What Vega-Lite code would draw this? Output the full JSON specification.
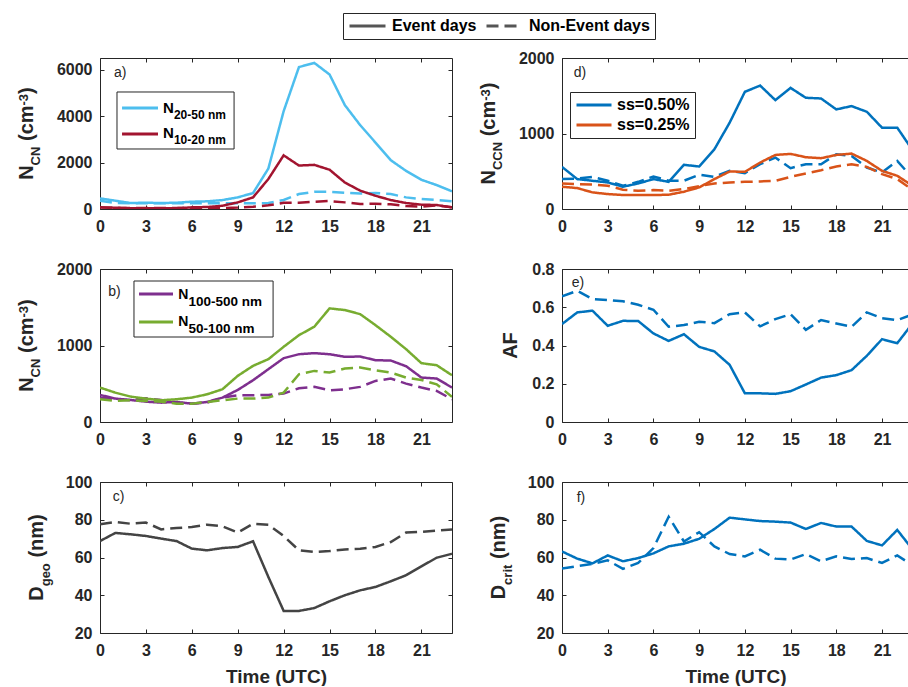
{
"$schema": "https://vega.github.io/schema/vega-lite/v6.json",
"padding": {"left": 16, "top": 12, "right": 0, "bottom": 0},
"background": "white",
"datasets": {"d": [
{"p":"a","s":"N20-50","t":"E","h":0,"v":457},{"p":"a","s":"N20-50","t":"E","h":1,"v":357},{"p":"a","s":"N20-50","t":"E","h":2,"v":257},{"p":"a","s":"N20-50","t":"E","h":3,"v":270},{"p":"a","s":"N20-50","t":"E","h":4,"v":257},{"p":"a","s":"N20-50","t":"E","h":5,"v":270},{"p":"a","s":"N20-50","t":"E","h":6,"v":314},{"p":"a","s":"N20-50","t":"E","h":7,"v":330},{"p":"a","s":"N20-50","t":"E","h":8,"v":385},{"p":"a","s":"N20-50","t":"E","h":9,"v":500},{"p":"a","s":"N20-50","t":"E","h":10,"v":686},{"p":"a","s":"N20-50","t":"E","h":11,"v":1740},{"p":"a","s":"N20-50","t":"E","h":12,"v":4210},{"p":"a","s":"N20-50","t":"E","h":13,"v":6110},{"p":"a","s":"N20-50","t":"E","h":14,"v":6290},{"p":"a","s":"N20-50","t":"E","h":15,"v":5790},{"p":"a","s":"N20-50","t":"E","h":16,"v":4470},{"p":"a","s":"N20-50","t":"E","h":17,"v":3610},{"p":"a","s":"N20-50","t":"E","h":18,"v":2860},{"p":"a","s":"N20-50","t":"E","h":19,"v":2100},{"p":"a","s":"N20-50","t":"E","h":20,"v":1640},{"p":"a","s":"N20-50","t":"E","h":21,"v":1257},{"p":"a","s":"N20-50","t":"E","h":22,"v":1030},{"p":"a","s":"N20-50","t":"E","h":23,"v":760},
{"p":"a","s":"N20-50","t":"N","h":0,"v":357},{"p":"a","s":"N20-50","t":"N","h":1,"v":257},{"p":"a","s":"N20-50","t":"N","h":2,"v":250},{"p":"a","s":"N20-50","t":"N","h":3,"v":250},{"p":"a","s":"N20-50","t":"N","h":4,"v":250},{"p":"a","s":"N20-50","t":"N","h":5,"v":250},{"p":"a","s":"N20-50","t":"N","h":6,"v":250},{"p":"a","s":"N20-50","t":"N","h":7,"v":250},{"p":"a","s":"N20-50","t":"N","h":8,"v":250},{"p":"a","s":"N20-50","t":"N","h":9,"v":250},{"p":"a","s":"N20-50","t":"N","h":10,"v":243},{"p":"a","s":"N20-50","t":"N","h":11,"v":257},{"p":"a","s":"N20-50","t":"N","h":12,"v":386},{"p":"a","s":"N20-50","t":"N","h":13,"v":643},{"p":"a","s":"N20-50","t":"N","h":14,"v":743},{"p":"a","s":"N20-50","t":"N","h":15,"v":743},{"p":"a","s":"N20-50","t":"N","h":16,"v":700},{"p":"a","s":"N20-50","t":"N","h":17,"v":670},{"p":"a","s":"N20-50","t":"N","h":18,"v":686},{"p":"a","s":"N20-50","t":"N","h":19,"v":643},{"p":"a","s":"N20-50","t":"N","h":20,"v":500},{"p":"a","s":"N20-50","t":"N","h":21,"v":430},{"p":"a","s":"N20-50","t":"N","h":22,"v":386},{"p":"a","s":"N20-50","t":"N","h":23,"v":330},
{"p":"a","s":"N10-20","t":"E","h":0,"v":71},{"p":"a","s":"N10-20","t":"E","h":1,"v":57},{"p":"a","s":"N10-20","t":"E","h":2,"v":30},{"p":"a","s":"N10-20","t":"E","h":3,"v":30},{"p":"a","s":"N10-20","t":"E","h":4,"v":30},{"p":"a","s":"N10-20","t":"E","h":5,"v":35},{"p":"a","s":"N10-20","t":"E","h":6,"v":70},{"p":"a","s":"N10-20","t":"E","h":7,"v":85},{"p":"a","s":"N10-20","t":"E","h":8,"v":140},{"p":"a","s":"N10-20","t":"E","h":9,"v":285},{"p":"a","s":"N10-20","t":"E","h":10,"v":500},{"p":"a","s":"N10-20","t":"E","h":11,"v":1290},{"p":"a","s":"N10-20","t":"E","h":12,"v":2310},{"p":"a","s":"N10-20","t":"E","h":13,"v":1870},{"p":"a","s":"N10-20","t":"E","h":14,"v":1900},{"p":"a","s":"N10-20","t":"E","h":15,"v":1690},{"p":"a","s":"N10-20","t":"E","h":16,"v":1140},{"p":"a","s":"N10-20","t":"E","h":17,"v":790},{"p":"a","s":"N10-20","t":"E","h":18,"v":570},{"p":"a","s":"N10-20","t":"E","h":19,"v":385},{"p":"a","s":"N10-20","t":"E","h":20,"v":257},{"p":"a","s":"N10-20","t":"E","h":21,"v":186},{"p":"a","s":"N10-20","t":"E","h":22,"v":171},{"p":"a","s":"N10-20","t":"E","h":23,"v":71},
{"p":"a","s":"N10-20","t":"N","h":0,"v":71},{"p":"a","s":"N10-20","t":"N","h":1,"v":40},{"p":"a","s":"N10-20","t":"N","h":2,"v":40},{"p":"a","s":"N10-20","t":"N","h":3,"v":40},{"p":"a","s":"N10-20","t":"N","h":4,"v":40},{"p":"a","s":"N10-20","t":"N","h":5,"v":40},{"p":"a","s":"N10-20","t":"N","h":6,"v":40},{"p":"a","s":"N10-20","t":"N","h":7,"v":40},{"p":"a","s":"N10-20","t":"N","h":8,"v":40},{"p":"a","s":"N10-20","t":"N","h":9,"v":60},{"p":"a","s":"N10-20","t":"N","h":10,"v":100},{"p":"a","s":"N10-20","t":"N","h":11,"v":157},{"p":"a","s":"N10-20","t":"N","h":12,"v":270},{"p":"a","s":"N10-20","t":"N","h":13,"v":270},{"p":"a","s":"N10-20","t":"N","h":14,"v":314},{"p":"a","s":"N10-20","t":"N","h":15,"v":343},{"p":"a","s":"N10-20","t":"N","h":16,"v":285},{"p":"a","s":"N10-20","t":"N","h":17,"v":214},{"p":"a","s":"N10-20","t":"N","h":18,"v":228},{"p":"a","s":"N10-20","t":"N","h":19,"v":200},{"p":"a","s":"N10-20","t":"N","h":20,"v":130},{"p":"a","s":"N10-20","t":"N","h":21,"v":100},{"p":"a","s":"N10-20","t":"N","h":22,"v":157},{"p":"a","s":"N10-20","t":"N","h":23,"v":71},
{"p":"b","s":"N100-500","t":"E","h":0,"v":354},{"p":"b","s":"N100-500","t":"E","h":1,"v":306},{"p":"b","s":"N100-500","t":"E","h":2,"v":288},{"p":"b","s":"N100-500","t":"E","h":3,"v":266},{"p":"b","s":"N100-500","t":"E","h":4,"v":253},{"p":"b","s":"N100-500","t":"E","h":5,"v":262},{"p":"b","s":"N100-500","t":"E","h":6,"v":240},{"p":"b","s":"N100-500","t":"E","h":7,"v":262},{"p":"b","s":"N100-500","t":"E","h":8,"v":319},{"p":"b","s":"N100-500","t":"E","h":9,"v":419},{"p":"b","s":"N100-500","t":"E","h":10,"v":546},{"p":"b","s":"N100-500","t":"E","h":11,"v":690},{"p":"b","s":"N100-500","t":"E","h":12,"v":834},{"p":"b","s":"N100-500","t":"E","h":13,"v":886},{"p":"b","s":"N100-500","t":"E","h":14,"v":900},{"p":"b","s":"N100-500","t":"E","h":15,"v":886},{"p":"b","s":"N100-500","t":"E","h":16,"v":852},{"p":"b","s":"N100-500","t":"E","h":17,"v":856},{"p":"b","s":"N100-500","t":"E","h":18,"v":808},{"p":"b","s":"N100-500","t":"E","h":19,"v":803},{"p":"b","s":"N100-500","t":"E","h":20,"v":729},{"p":"b","s":"N100-500","t":"E","h":21,"v":581},{"p":"b","s":"N100-500","t":"E","h":22,"v":568},{"p":"b","s":"N100-500","t":"E","h":23,"v":450},
{"p":"b","s":"N100-500","t":"N","h":0,"v":319},{"p":"b","s":"N100-500","t":"N","h":1,"v":297},{"p":"b","s":"N100-500","t":"N","h":2,"v":284},{"p":"b","s":"N100-500","t":"N","h":3,"v":310},{"p":"b","s":"N100-500","t":"N","h":4,"v":288},{"p":"b","s":"N100-500","t":"N","h":5,"v":253},{"p":"b","s":"N100-500","t":"N","h":6,"v":240},{"p":"b","s":"N100-500","t":"N","h":7,"v":253},{"p":"b","s":"N100-500","t":"N","h":8,"v":319},{"p":"b","s":"N100-500","t":"N","h":9,"v":349},{"p":"b","s":"N100-500","t":"N","h":10,"v":349},{"p":"b","s":"N100-500","t":"N","h":11,"v":354},{"p":"b","s":"N100-500","t":"N","h":12,"v":371},{"p":"b","s":"N100-500","t":"N","h":13,"v":441},{"p":"b","s":"N100-500","t":"N","h":14,"v":459},{"p":"b","s":"N100-500","t":"N","h":15,"v":415},{"p":"b","s":"N100-500","t":"N","h":16,"v":428},{"p":"b","s":"N100-500","t":"N","h":17,"v":459},{"p":"b","s":"N100-500","t":"N","h":18,"v":537},{"p":"b","s":"N100-500","t":"N","h":19,"v":568},{"p":"b","s":"N100-500","t":"N","h":20,"v":502},{"p":"b","s":"N100-500","t":"N","h":21,"v":450},{"p":"b","s":"N100-500","t":"N","h":22,"v":406},{"p":"b","s":"N100-500","t":"N","h":23,"v":297},
{"p":"b","s":"N50-100","t":"E","h":0,"v":450},{"p":"b","s":"N50-100","t":"E","h":1,"v":384},{"p":"b","s":"N50-100","t":"E","h":2,"v":332},{"p":"b","s":"N50-100","t":"E","h":3,"v":306},{"p":"b","s":"N50-100","t":"E","h":4,"v":284},{"p":"b","s":"N50-100","t":"E","h":5,"v":297},{"p":"b","s":"N50-100","t":"E","h":6,"v":319},{"p":"b","s":"N50-100","t":"E","h":7,"v":362},{"p":"b","s":"N50-100","t":"E","h":8,"v":428},{"p":"b","s":"N50-100","t":"E","h":9,"v":603},{"p":"b","s":"N50-100","t":"E","h":10,"v":734},{"p":"b","s":"N50-100","t":"E","h":11,"v":821},{"p":"b","s":"N50-100","t":"E","h":12,"v":983},{"p":"b","s":"N50-100","t":"E","h":13,"v":1135},{"p":"b","s":"N50-100","t":"E","h":14,"v":1245},{"p":"b","s":"N50-100","t":"E","h":15,"v":1485},{"p":"b","s":"N50-100","t":"E","h":16,"v":1463},{"p":"b","s":"N50-100","t":"E","h":17,"v":1410},{"p":"b","s":"N50-100","t":"E","h":18,"v":1266},{"p":"b","s":"N50-100","t":"E","h":19,"v":1114},{"p":"b","s":"N50-100","t":"E","h":20,"v":952},{"p":"b","s":"N50-100","t":"E","h":21,"v":769},{"p":"b","s":"N50-100","t":"E","h":22,"v":742},{"p":"b","s":"N50-100","t":"E","h":23,"v":611},
{"p":"b","s":"N50-100","t":"N","h":0,"v":297},{"p":"b","s":"N50-100","t":"N","h":1,"v":275},{"p":"b","s":"N50-100","t":"N","h":2,"v":284},{"p":"b","s":"N50-100","t":"N","h":3,"v":275},{"p":"b","s":"N50-100","t":"N","h":4,"v":266},{"p":"b","s":"N50-100","t":"N","h":5,"v":240},{"p":"b","s":"N50-100","t":"N","h":6,"v":240},{"p":"b","s":"N50-100","t":"N","h":7,"v":262},{"p":"b","s":"N50-100","t":"N","h":8,"v":284},{"p":"b","s":"N50-100","t":"N","h":9,"v":306},{"p":"b","s":"N50-100","t":"N","h":10,"v":306},{"p":"b","s":"N50-100","t":"N","h":11,"v":319},{"p":"b","s":"N50-100","t":"N","h":12,"v":384},{"p":"b","s":"N50-100","t":"N","h":13,"v":624},{"p":"b","s":"N50-100","t":"N","h":14,"v":668},{"p":"b","s":"N50-100","t":"N","h":15,"v":646},{"p":"b","s":"N50-100","t":"N","h":16,"v":699},{"p":"b","s":"N50-100","t":"N","h":17,"v":712},{"p":"b","s":"N50-100","t":"N","h":18,"v":677},{"p":"b","s":"N50-100","t":"N","h":19,"v":646},{"p":"b","s":"N50-100","t":"N","h":20,"v":581},{"p":"b","s":"N50-100","t":"N","h":21,"v":550},{"p":"b","s":"N50-100","t":"N","h":22,"v":493},{"p":"b","s":"N50-100","t":"N","h":23,"v":328},
{"p":"c","s":"Dgeo","t":"E","h":0,"v":68.7},{"p":"c","s":"Dgeo","t":"E","h":1,"v":73.0},{"p":"c","s":"Dgeo","t":"E","h":2,"v":72.3},{"p":"c","s":"Dgeo","t":"E","h":3,"v":71.4},{"p":"c","s":"Dgeo","t":"E","h":4,"v":70.0},{"p":"c","s":"Dgeo","t":"E","h":5,"v":68.7},{"p":"c","s":"Dgeo","t":"E","h":6,"v":64.7},{"p":"c","s":"Dgeo","t":"E","h":7,"v":63.8},{"p":"c","s":"Dgeo","t":"E","h":8,"v":65.0},{"p":"c","s":"Dgeo","t":"E","h":9,"v":65.6},{"p":"c","s":"Dgeo","t":"E","h":10,"v":68.6},{"p":"c","s":"Dgeo","t":"E","h":11,"v":49.7},{"p":"c","s":"Dgeo","t":"E","h":12,"v":31.7},{"p":"c","s":"Dgeo","t":"E","h":13,"v":31.7},{"p":"c","s":"Dgeo","t":"E","h":14,"v":33.2},{"p":"c","s":"Dgeo","t":"E","h":15,"v":36.8},{"p":"c","s":"Dgeo","t":"E","h":16,"v":40.0},{"p":"c","s":"Dgeo","t":"E","h":17,"v":42.6},{"p":"c","s":"Dgeo","t":"E","h":18,"v":44.4},{"p":"c","s":"Dgeo","t":"E","h":19,"v":47.4},{"p":"c","s":"Dgeo","t":"E","h":20,"v":50.6},{"p":"c","s":"Dgeo","t":"E","h":21,"v":55.3},{"p":"c","s":"Dgeo","t":"E","h":22,"v":59.9},{"p":"c","s":"Dgeo","t":"E","h":23,"v":62.0},
{"p":"c","s":"Dgeo","t":"N","h":0,"v":77.6},{"p":"c","s":"Dgeo","t":"N","h":1,"v":78.8},{"p":"c","s":"Dgeo","t":"N","h":2,"v":77.9},{"p":"c","s":"Dgeo","t":"N","h":3,"v":78.5},{"p":"c","s":"Dgeo","t":"N","h":4,"v":74.9},{"p":"c","s":"Dgeo","t":"N","h":5,"v":75.6},{"p":"c","s":"Dgeo","t":"N","h":6,"v":76.2},{"p":"c","s":"Dgeo","t":"N","h":7,"v":77.4},{"p":"c","s":"Dgeo","t":"N","h":8,"v":76.5},{"p":"c","s":"Dgeo","t":"N","h":9,"v":73.2},{"p":"c","s":"Dgeo","t":"N","h":10,"v":77.9},{"p":"c","s":"Dgeo","t":"N","h":11,"v":77.4},{"p":"c","s":"Dgeo","t":"N","h":12,"v":71.4},{"p":"c","s":"Dgeo","t":"N","h":13,"v":63.8},{"p":"c","s":"Dgeo","t":"N","h":14,"v":62.9},{"p":"c","s":"Dgeo","t":"N","h":15,"v":63.4},{"p":"c","s":"Dgeo","t":"N","h":16,"v":64.3},{"p":"c","s":"Dgeo","t":"N","h":17,"v":64.7},{"p":"c","s":"Dgeo","t":"N","h":18,"v":65.6},{"p":"c","s":"Dgeo","t":"N","h":19,"v":68.2},{"p":"c","s":"Dgeo","t":"N","h":20,"v":73.2},{"p":"c","s":"Dgeo","t":"N","h":21,"v":73.6},{"p":"c","s":"Dgeo","t":"N","h":22,"v":74.2},{"p":"c","s":"Dgeo","t":"N","h":23,"v":74.9},
{"p":"d","s":"ss=0.50%","t":"E","h":0,"v":558},{"p":"d","s":"ss=0.50%","t":"E","h":1,"v":396},{"p":"d","s":"ss=0.50%","t":"E","h":2,"v":374},{"p":"d","s":"ss=0.50%","t":"E","h":3,"v":352},{"p":"d","s":"ss=0.50%","t":"E","h":4,"v":295},{"p":"d","s":"ss=0.50%","t":"E","h":5,"v":338},{"p":"d","s":"ss=0.50%","t":"E","h":6,"v":396},{"p":"d","s":"ss=0.50%","t":"E","h":7,"v":360},{"p":"d","s":"ss=0.50%","t":"E","h":8,"v":585},{"p":"d","s":"ss=0.50%","t":"E","h":9,"v":563},{"p":"d","s":"ss=0.50%","t":"E","h":10,"v":791},{"p":"d","s":"ss=0.50%","t":"E","h":11,"v":1143},{"p":"d","s":"ss=0.50%","t":"E","h":12,"v":1552},{"p":"d","s":"ss=0.50%","t":"E","h":13,"v":1635},{"p":"d","s":"ss=0.50%","t":"E","h":14,"v":1442},{"p":"d","s":"ss=0.50%","t":"E","h":15,"v":1604},{"p":"d","s":"ss=0.50%","t":"E","h":16,"v":1473},{"p":"d","s":"ss=0.50%","t":"E","h":17,"v":1464},{"p":"d","s":"ss=0.50%","t":"E","h":18,"v":1319},{"p":"d","s":"ss=0.50%","t":"E","h":19,"v":1363},{"p":"d","s":"ss=0.50%","t":"E","h":20,"v":1288},{"p":"d","s":"ss=0.50%","t":"E","h":21,"v":1077},{"p":"d","s":"ss=0.50%","t":"E","h":22,"v":1077},{"p":"d","s":"ss=0.50%","t":"E","h":23,"v":780},
{"p":"d","s":"ss=0.50%","t":"N","h":0,"v":396},{"p":"d","s":"ss=0.50%","t":"N","h":1,"v":404},{"p":"d","s":"ss=0.50%","t":"N","h":2,"v":426},{"p":"d","s":"ss=0.50%","t":"N","h":3,"v":374},{"p":"d","s":"ss=0.50%","t":"N","h":4,"v":308},{"p":"d","s":"ss=0.50%","t":"N","h":5,"v":360},{"p":"d","s":"ss=0.50%","t":"N","h":6,"v":431},{"p":"d","s":"ss=0.50%","t":"N","h":7,"v":374},{"p":"d","s":"ss=0.50%","t":"N","h":8,"v":374},{"p":"d","s":"ss=0.50%","t":"N","h":9,"v":453},{"p":"d","s":"ss=0.50%","t":"N","h":10,"v":426},{"p":"d","s":"ss=0.50%","t":"N","h":11,"v":505},{"p":"d","s":"ss=0.50%","t":"N","h":12,"v":475},{"p":"d","s":"ss=0.50%","t":"N","h":13,"v":593},{"p":"d","s":"ss=0.50%","t":"N","h":14,"v":681},{"p":"d","s":"ss=0.50%","t":"N","h":15,"v":541},{"p":"d","s":"ss=0.50%","t":"N","h":16,"v":593},{"p":"d","s":"ss=0.50%","t":"N","h":17,"v":593},{"p":"d","s":"ss=0.50%","t":"N","h":18,"v":725},{"p":"d","s":"ss=0.50%","t":"N","h":19,"v":703},{"p":"d","s":"ss=0.50%","t":"N","h":20,"v":549},{"p":"d","s":"ss=0.50%","t":"N","h":21,"v":484},{"p":"d","s":"ss=0.50%","t":"N","h":22,"v":637},{"p":"d","s":"ss=0.50%","t":"N","h":23,"v":410},
{"p":"d","s":"ss=0.25%","t":"E","h":0,"v":295},{"p":"d","s":"ss=0.25%","t":"E","h":1,"v":277},{"p":"d","s":"ss=0.25%","t":"E","h":2,"v":220},{"p":"d","s":"ss=0.25%","t":"E","h":3,"v":198},{"p":"d","s":"ss=0.25%","t":"E","h":4,"v":185},{"p":"d","s":"ss=0.25%","t":"E","h":5,"v":185},{"p":"d","s":"ss=0.25%","t":"E","h":6,"v":185},{"p":"d","s":"ss=0.25%","t":"E","h":7,"v":189},{"p":"d","s":"ss=0.25%","t":"E","h":8,"v":229},{"p":"d","s":"ss=0.25%","t":"E","h":9,"v":286},{"p":"d","s":"ss=0.25%","t":"E","h":10,"v":396},{"p":"d","s":"ss=0.25%","t":"E","h":11,"v":497},{"p":"d","s":"ss=0.25%","t":"E","h":12,"v":492},{"p":"d","s":"ss=0.25%","t":"E","h":13,"v":615},{"p":"d","s":"ss=0.25%","t":"E","h":14,"v":716},{"p":"d","s":"ss=0.25%","t":"E","h":15,"v":730},{"p":"d","s":"ss=0.25%","t":"E","h":16,"v":686},{"p":"d","s":"ss=0.25%","t":"E","h":17,"v":673},{"p":"d","s":"ss=0.25%","t":"E","h":18,"v":716},{"p":"d","s":"ss=0.25%","t":"E","h":19,"v":734},{"p":"d","s":"ss=0.25%","t":"E","h":20,"v":637},{"p":"d","s":"ss=0.25%","t":"E","h":21,"v":505},{"p":"d","s":"ss=0.25%","t":"E","h":22,"v":440},{"p":"d","s":"ss=0.25%","t":"E","h":23,"v":308},
{"p":"d","s":"ss=0.25%","t":"N","h":0,"v":338},{"p":"d","s":"ss=0.25%","t":"N","h":1,"v":330},{"p":"d","s":"ss=0.25%","t":"N","h":2,"v":325},{"p":"d","s":"ss=0.25%","t":"N","h":3,"v":308},{"p":"d","s":"ss=0.25%","t":"N","h":4,"v":255},{"p":"d","s":"ss=0.25%","t":"N","h":5,"v":242},{"p":"d","s":"ss=0.25%","t":"N","h":6,"v":251},{"p":"d","s":"ss=0.25%","t":"N","h":7,"v":242},{"p":"d","s":"ss=0.25%","t":"N","h":8,"v":264},{"p":"d","s":"ss=0.25%","t":"N","h":9,"v":303},{"p":"d","s":"ss=0.25%","t":"N","h":10,"v":338},{"p":"d","s":"ss=0.25%","t":"N","h":11,"v":352},{"p":"d","s":"ss=0.25%","t":"N","h":12,"v":360},{"p":"d","s":"ss=0.25%","t":"N","h":13,"v":365},{"p":"d","s":"ss=0.25%","t":"N","h":14,"v":374},{"p":"d","s":"ss=0.25%","t":"N","h":15,"v":426},{"p":"d","s":"ss=0.25%","t":"N","h":16,"v":470},{"p":"d","s":"ss=0.25%","t":"N","h":17,"v":514},{"p":"d","s":"ss=0.25%","t":"N","h":18,"v":563},{"p":"d","s":"ss=0.25%","t":"N","h":19,"v":593},{"p":"d","s":"ss=0.25%","t":"N","h":20,"v":558},{"p":"d","s":"ss=0.25%","t":"N","h":21,"v":462},{"p":"d","s":"ss=0.25%","t":"N","h":22,"v":396},{"p":"d","s":"ss=0.25%","t":"N","h":23,"v":253},
{"p":"e","s":"AF","t":"E","h":0,"v":0.512},{"p":"e","s":"AF","t":"E","h":1,"v":0.573},{"p":"e","s":"AF","t":"E","h":2,"v":0.582},{"p":"e","s":"AF","t":"E","h":3,"v":0.503},{"p":"e","s":"AF","t":"E","h":4,"v":0.529},{"p":"e","s":"AF","t":"E","h":5,"v":0.528},{"p":"e","s":"AF","t":"E","h":6,"v":0.463},{"p":"e","s":"AF","t":"E","h":7,"v":0.424},{"p":"e","s":"AF","t":"E","h":8,"v":0.459},{"p":"e","s":"AF","t":"E","h":9,"v":0.393},{"p":"e","s":"AF","t":"E","h":10,"v":0.369},{"p":"e","s":"AF","t":"E","h":11,"v":0.299},{"p":"e","s":"AF","t":"E","h":12,"v":0.150},{"p":"e","s":"AF","t":"E","h":13,"v":0.150},{"p":"e","s":"AF","t":"E","h":14,"v":0.147},{"p":"e","s":"AF","t":"E","h":15,"v":0.161},{"p":"e","s":"AF","t":"E","h":16,"v":0.196},{"p":"e","s":"AF","t":"E","h":17,"v":0.232},{"p":"e","s":"AF","t":"E","h":18,"v":0.245},{"p":"e","s":"AF","t":"E","h":19,"v":0.271},{"p":"e","s":"AF","t":"E","h":20,"v":0.346},{"p":"e","s":"AF","t":"E","h":21,"v":0.433},{"p":"e","s":"AF","t":"E","h":22,"v":0.412},{"p":"e","s":"AF","t":"E","h":23,"v":0.515},
{"p":"e","s":"AF","t":"N","h":0,"v":0.657},{"p":"e","s":"AF","t":"N","h":1,"v":0.686},{"p":"e","s":"AF","t":"N","h":2,"v":0.643},{"p":"e","s":"AF","t":"N","h":3,"v":0.638},{"p":"e","s":"AF","t":"N","h":4,"v":0.631},{"p":"e","s":"AF","t":"N","h":5,"v":0.613},{"p":"e","s":"AF","t":"N","h":6,"v":0.587},{"p":"e","s":"AF","t":"N","h":7,"v":0.498},{"p":"e","s":"AF","t":"N","h":8,"v":0.507},{"p":"e","s":"AF","t":"N","h":9,"v":0.524},{"p":"e","s":"AF","t":"N","h":10,"v":0.517},{"p":"e","s":"AF","t":"N","h":11,"v":0.564},{"p":"e","s":"AF","t":"N","h":12,"v":0.573},{"p":"e","s":"AF","t":"N","h":13,"v":0.500},{"p":"e","s":"AF","t":"N","h":14,"v":0.538},{"p":"e","s":"AF","t":"N","h":15,"v":0.564},{"p":"e","s":"AF","t":"N","h":16,"v":0.482},{"p":"e","s":"AF","t":"N","h":17,"v":0.533},{"p":"e","s":"AF","t":"N","h":18,"v":0.515},{"p":"e","s":"AF","t":"N","h":19,"v":0.498},{"p":"e","s":"AF","t":"N","h":20,"v":0.573},{"p":"e","s":"AF","t":"N","h":21,"v":0.543},{"p":"e","s":"AF","t":"N","h":22,"v":0.533},{"p":"e","s":"AF","t":"N","h":23,"v":0.562},
{"p":"f","s":"Dcrit","t":"E","h":0,"v":63.2},{"p":"f","s":"Dcrit","t":"E","h":1,"v":59.4},{"p":"f","s":"Dcrit","t":"E","h":2,"v":56.9},{"p":"f","s":"Dcrit","t":"E","h":3,"v":61.1},{"p":"f","s":"Dcrit","t":"E","h":4,"v":58.0},{"p":"f","s":"Dcrit","t":"E","h":5,"v":59.7},{"p":"f","s":"Dcrit","t":"E","h":6,"v":62.2},{"p":"f","s":"Dcrit","t":"E","h":7,"v":65.9},{"p":"f","s":"Dcrit","t":"E","h":8,"v":67.3},{"p":"f","s":"Dcrit","t":"E","h":9,"v":69.9},{"p":"f","s":"Dcrit","t":"E","h":10,"v":75.1},{"p":"f","s":"Dcrit","t":"E","h":11,"v":81.1},{"p":"f","s":"Dcrit","t":"E","h":12,"v":80.2},{"p":"f","s":"Dcrit","t":"E","h":13,"v":79.3},{"p":"f","s":"Dcrit","t":"E","h":14,"v":79.0},{"p":"f","s":"Dcrit","t":"E","h":15,"v":78.5},{"p":"f","s":"Dcrit","t":"E","h":16,"v":75.1},{"p":"f","s":"Dcrit","t":"E","h":17,"v":78.3},{"p":"f","s":"Dcrit","t":"E","h":18,"v":76.4},{"p":"f","s":"Dcrit","t":"E","h":19,"v":76.4},{"p":"f","s":"Dcrit","t":"E","h":20,"v":68.8},{"p":"f","s":"Dcrit","t":"E","h":21,"v":66.4},{"p":"f","s":"Dcrit","t":"E","h":22,"v":74.6},{"p":"f","s":"Dcrit","t":"E","h":23,"v":64.3},
{"p":"f","s":"Dcrit","t":"N","h":0,"v":54.1},{"p":"f","s":"Dcrit","t":"N","h":1,"v":55.4},{"p":"f","s":"Dcrit","t":"N","h":2,"v":56.6},{"p":"f","s":"Dcrit","t":"N","h":3,"v":58.5},{"p":"f","s":"Dcrit","t":"N","h":4,"v":54.0},{"p":"f","s":"Dcrit","t":"N","h":5,"v":57.1},{"p":"f","s":"Dcrit","t":"N","h":6,"v":65.0},{"p":"f","s":"Dcrit","t":"N","h":7,"v":81.6},{"p":"f","s":"Dcrit","t":"N","h":8,"v":68.5},{"p":"f","s":"Dcrit","t":"N","h":9,"v":73.4},{"p":"f","s":"Dcrit","t":"N","h":10,"v":65.9},{"p":"f","s":"Dcrit","t":"N","h":11,"v":61.8},{"p":"f","s":"Dcrit","t":"N","h":12,"v":60.6},{"p":"f","s":"Dcrit","t":"N","h":13,"v":64.1},{"p":"f","s":"Dcrit","t":"N","h":14,"v":59.4},{"p":"f","s":"Dcrit","t":"N","h":15,"v":58.9},{"p":"f","s":"Dcrit","t":"N","h":16,"v":61.8},{"p":"f","s":"Dcrit","t":"N","h":17,"v":58.0},{"p":"f","s":"Dcrit","t":"N","h":18,"v":60.6},{"p":"f","s":"Dcrit","t":"N","h":19,"v":59.2},{"p":"f","s":"Dcrit","t":"N","h":20,"v":59.7},{"p":"f","s":"Dcrit","t":"N","h":21,"v":57.1},{"p":"f","s":"Dcrit","t":"N","h":22,"v":61.1},{"p":"f","s":"Dcrit","t":"N","h":23,"v":55.9}
]},
"data": {"name": "d"},
"columns": 2,
"spacing": {"row": 60, "column": 110},
"bounds": "flush",
"resolve": {"scale": {"color": "independent", "strokeDash": "independent"}},
"concat": [
{
 "width": 352, "height": 151,
 "resolve": {"axis": {"x": "independent", "y": "independent"}},
 "layer": [
  {"transform": [{"filter": "datum.p == 'a'"}],
   "mark": {"type": "line", "strokeWidth": 2.5, "clip": true},
   "encoding": {
    "x": {"field": "h", "type": "quantitative", "scale": {"domain": [0, 23], "nice": false}, "axis": {"orient": "bottom", "values": [0,3,6,9,12,15,18,21], "title": null}},
    "y": {"field": "v", "type": "quantitative", "scale": {"domain": [0, 6500], "nice": false}, "axis": {"orient": "left", "values": [0,2000,4000,6000], "format": "d", "title": null}},
    "color": {"field": "s", "type": "nominal", "scale": {"domain": ["N20-50", "N10-20"], "range": ["#4DBEEE", "#A2142F"]}, "legend": null},
    "strokeDash": {"field": "t", "type": "nominal", "scale": {"domain": ["E", "N"], "range": [[1, 0], [12, 6]]},
      "legend": {"orient": "none", "legendX": 243, "legendY": -45, "direction": "horizontal", "title": null,
        "symbolType": "stroke", "symbolSize": 1296, "symbolStrokeWidth": 3, "symbolStrokeColor": "#555555", "clipHeight": 16,
        "labelFont": "Liberation Sans", "labelFontWeight": "bold", "labelFontSize": 16, "labelColor": "black",
        "labelOffset": 5, "columnPadding": 8, "padding": 5, "strokeColor": "#262626", "fillColor": "white",
        "labelExpr": "datum.value == 'E' ? 'Event days' : 'Non-Event days'",
        "encode": {"symbols": {"update": {"strokeDash": [{"test": "datum.value == 'N'", "value": [11, 11]}, {"value": [1, 0]}]}}}}}
   }},
  {"transform": [{"filter": "datum.p == 'a'"}],
   "mark": {"type": "point", "opacity": 0},
   "encoding": {
    "x": {"field": "h", "type": "quantitative", "axis": {"orient": "top", "values": [0,3,6,9,12,15,18,21], "labels": false, "title": null}},
    "y": {"field": "v", "type": "quantitative", "axis": {"orient": "right", "values": [0,2000,4000,6000], "labels": false, "title": null}}
   }},
  {"data": {"values": [{}]}, "mark": {"type": "text", "text": "a)", "fontSize": 14, "align": "left", "baseline": "alphabetic", "color": "#262626"},
   "encoding": {"x": {"datum": 0.92, "type": "quantitative", "axis": null}, "y": {"datum": 5695, "type": "quantitative", "axis": null}}},
  {"data": {"values": [{}]}, "mark": {"type": "rect", "fill": "white", "stroke": "#262626", "strokeWidth": 1},
   "encoding": {"x": {"datum": 1.11, "type": "quantitative", "axis": null}, "x2": {"datum": 8.76}, "y": {"datum": 5037, "type": "quantitative", "axis": null}, "y2": {"datum": 2583}}},
  {"data": {"values": [{}]}, "mark": {"type": "rule", "color": "#4DBEEE", "strokeWidth": 3},
   "encoding": {"x": {"datum": 1.44, "type": "quantitative", "axis": null}, "x2": {"datum": 3.79}, "y": {"datum": 4348, "type": "quantitative", "axis": null}}},
  {"data": {"values": [{}]}, "mark": {"type": "rule", "color": "#A2142F", "strokeWidth": 3},
   "encoding": {"x": {"datum": 1.44, "type": "quantitative", "axis": null}, "x2": {"datum": 3.79}, "y": {"datum": 3229, "type": "quantitative", "axis": null}}},
  {"data": {"values": [{}]}, "mark": {"type": "text", "text": "N", "fontSize": 15, "fontWeight": "bold", "align": "left", "baseline": "alphabetic", "color": "black"},
   "encoding": {"x": {"datum": 4.12, "type": "quantitative", "axis": null}, "y": {"datum": 4146, "type": "quantitative", "axis": null}}},
  {"data": {"values": [{}]}, "mark": {"type": "text", "text": "20-50 nm", "fontSize": 12, "fontWeight": "bold", "align": "left", "baseline": "alphabetic", "color": "black"},
   "encoding": {"x": {"datum": 4.83, "type": "quantitative", "axis": null}, "y": {"datum": 3887, "type": "quantitative", "axis": null}}},
  {"data": {"values": [{}]}, "mark": {"type": "text", "text": "N", "fontSize": 15, "fontWeight": "bold", "align": "left", "baseline": "alphabetic", "color": "black"},
   "encoding": {"x": {"datum": 4.12, "type": "quantitative", "axis": null}, "y": {"datum": 3070, "type": "quantitative", "axis": null}}},
  {"data": {"values": [{}]}, "mark": {"type": "text", "text": "10-20 nm", "fontSize": 12, "fontWeight": "bold", "align": "left", "baseline": "alphabetic", "color": "black"},
   "encoding": {"x": {"datum": 4.83, "type": "quantitative", "axis": null}, "y": {"datum": 2785, "type": "quantitative", "axis": null}}},
  {"data": {"values": [{}]}, "mark": {"type": "text", "text": "N", "angle": 270, "dx": -46.3, "dy": 0, "fontSize": 20, "fontWeight": "bold", "align": "left", "baseline": "alphabetic", "color": "#262626"},
   "encoding": {"x": {"datum": -4.38, "type": "quantitative", "axis": null}, "y": {"datum": 3250, "type": "quantitative", "axis": null}}},
  {"data": {"values": [{}]}, "mark": {"type": "text", "text": "CN", "angle": 270, "dx": -31.9, "dy": 7, "fontSize": 13, "fontWeight": "bold", "align": "left", "baseline": "alphabetic", "color": "#262626"},
   "encoding": {"x": {"datum": -4.38, "type": "quantitative", "axis": null}, "y": {"datum": 3250, "type": "quantitative", "axis": null}}},
  {"data": {"values": [{}]}, "mark": {"type": "text", "text": "(cm", "angle": 270, "dx": -7.5, "dy": 0, "fontSize": 20, "fontWeight": "bold", "align": "left", "baseline": "alphabetic", "color": "#262626"},
   "encoding": {"x": {"datum": -4.38, "type": "quantitative", "axis": null}, "y": {"datum": 3250, "type": "quantitative", "axis": null}}},
  {"data": {"values": [{}]}, "mark": {"type": "text", "text": "-3", "angle": 270, "dx": 28.0, "dy": -5, "fontSize": 13, "fontWeight": "bold", "align": "left", "baseline": "alphabetic", "color": "#262626"},
   "encoding": {"x": {"datum": -4.38, "type": "quantitative", "axis": null}, "y": {"datum": 3250, "type": "quantitative", "axis": null}}},
  {"data": {"values": [{}]}, "mark": {"type": "text", "text": ")", "angle": 270, "dx": 39.6, "dy": 0, "fontSize": 20, "fontWeight": "bold", "align": "left", "baseline": "alphabetic", "color": "#262626"},
   "encoding": {"x": {"datum": -4.38, "type": "quantitative", "axis": null}, "y": {"datum": 3250, "type": "quantitative", "axis": null}}}
 ]
},
{
 "width": 347, "height": 151,
 "resolve": {"axis": {"x": "independent", "y": "independent"}},
 "layer": [
  {"transform": [{"filter": "datum.p == 'd'"}],
   "mark": {"type": "line", "strokeWidth": 2.5, "clip": true},
   "encoding": {
    "x": {"field": "h", "type": "quantitative", "scale": {"domain": [0, 22.77], "nice": false}, "axis": {"orient": "bottom", "values": [0,3,6,9,12,15,18,21], "title": null}},
    "y": {"field": "v", "type": "quantitative", "scale": {"domain": [0, 2000], "nice": false}, "axis": {"orient": "left", "values": [0,1000,2000], "format": "d", "title": null}},
    "color": {"field": "s", "type": "nominal", "scale": {"domain": ["ss=0.50%", "ss=0.25%"], "range": ["#0072BD", "#D95319"]},
      "legend": {"orient": "none", "legendX": 8, "legendY": 34, "direction": "vertical", "title": null,
        "symbolType": "stroke", "symbolSize": 1225, "symbolStrokeWidth": 3, "clipHeight": 16,
        "labelFont": "Liberation Sans", "labelFontWeight": "bold", "labelFontSize": 16, "labelColor": "black",
        "labelOffset": 4, "rowPadding": 4, "padding": 5, "strokeColor": "#262626", "fillColor": "white"}},
    "strokeDash": {"field": "t", "type": "nominal", "scale": {"domain": ["E", "N"], "range": [[1, 0], [12, 6]]}, "legend": null}
   }},
  {"transform": [{"filter": "datum.p == 'd'"}],
   "mark": {"type": "point", "opacity": 0},
   "encoding": {
    "x": {"field": "h", "type": "quantitative", "axis": {"orient": "top", "values": [0,3,6,9,12,15,18,21], "labels": false, "title": null}},
    "y": {"field": "v", "type": "quantitative", "axis": null}
   }},
  {"data": {"values": [{}]}, "mark": {"type": "text", "text": "d)", "fontSize": 14, "align": "left", "baseline": "alphabetic", "color": "#262626"},
   "encoding": {"x": {"datum": 0.77, "type": "quantitative", "axis": null}, "y": {"datum": 1753, "type": "quantitative", "axis": null}}},
  {"data": {"values": [{}]}, "mark": {"type": "text", "text": "N", "angle": 270, "dx": -51, "dy": 0, "fontSize": 20, "fontWeight": "bold", "align": "left", "baseline": "alphabetic", "color": "#262626"},
   "encoding": {"x": {"datum": -4.4, "type": "quantitative", "axis": null}, "y": {"datum": 1000, "type": "quantitative", "axis": null}}},
  {"data": {"values": [{}]}, "mark": {"type": "text", "text": "CCN", "angle": 270, "dx": -36.6, "dy": 7, "fontSize": 13, "fontWeight": "bold", "align": "left", "baseline": "alphabetic", "color": "#262626"},
   "encoding": {"x": {"datum": -4.4, "type": "quantitative", "axis": null}, "y": {"datum": 1000, "type": "quantitative", "axis": null}}},
  {"data": {"values": [{}]}, "mark": {"type": "text", "text": "(cm", "angle": 270, "dx": -2.8, "dy": 0, "fontSize": 20, "fontWeight": "bold", "align": "left", "baseline": "alphabetic", "color": "#262626"},
   "encoding": {"x": {"datum": -4.4, "type": "quantitative", "axis": null}, "y": {"datum": 1000, "type": "quantitative", "axis": null}}},
  {"data": {"values": [{}]}, "mark": {"type": "text", "text": "-3", "angle": 270, "dx": 32.7, "dy": -5, "fontSize": 13, "fontWeight": "bold", "align": "left", "baseline": "alphabetic", "color": "#262626"},
   "encoding": {"x": {"datum": -4.4, "type": "quantitative", "axis": null}, "y": {"datum": 1000, "type": "quantitative", "axis": null}}},
  {"data": {"values": [{}]}, "mark": {"type": "text", "text": ")", "angle": 270, "dx": 44.3, "dy": 0, "fontSize": 20, "fontWeight": "bold", "align": "left", "baseline": "alphabetic", "color": "#262626"},
   "encoding": {"x": {"datum": -4.4, "type": "quantitative", "axis": null}, "y": {"datum": 1000, "type": "quantitative", "axis": null}}}
 ]
},
{
 "width": 352, "height": 153,
 "resolve": {"axis": {"x": "independent", "y": "independent"}},
 "layer": [
  {"transform": [{"filter": "datum.p == 'b'"}],
   "mark": {"type": "line", "strokeWidth": 2.5, "clip": true},
   "encoding": {
    "x": {"field": "h", "type": "quantitative", "scale": {"domain": [0, 23], "nice": false}, "axis": {"orient": "bottom", "values": [0,3,6,9,12,15,18,21], "title": null}},
    "y": {"field": "v", "type": "quantitative", "scale": {"domain": [0, 2000], "nice": false}, "axis": {"orient": "left", "values": [0,1000,2000], "format": "d", "title": null}},
    "color": {"field": "s", "type": "nominal", "scale": {"domain": ["N100-500", "N50-100"], "range": ["#7E2F8E", "#77AC30"]}, "legend": null},
    "strokeDash": {"field": "t", "type": "nominal", "scale": {"domain": ["E", "N"], "range": [[1, 0], [12, 6]]}, "legend": null}
   }},
  {"transform": [{"filter": "datum.p == 'b'"}],
   "mark": {"type": "point", "opacity": 0},
   "encoding": {
    "x": {"field": "h", "type": "quantitative", "axis": {"orient": "top", "values": [0,3,6,9,12,15,18,21], "labels": false, "title": null}},
    "y": {"field": "v", "type": "quantitative", "axis": {"orient": "right", "values": [0,1000,2000], "labels": false, "title": null}}
   }},
  {"data": {"values": [{}]}, "mark": {"type": "text", "text": "b)", "fontSize": 14, "align": "left", "baseline": "alphabetic", "color": "#262626"},
   "encoding": {"x": {"datum": 0.54, "type": "quantitative", "axis": null}, "y": {"datum": 1647, "type": "quantitative", "axis": null}}},
  {"data": {"values": [{}]}, "mark": {"type": "rect", "fill": "white", "stroke": "#262626", "strokeWidth": 1},
   "encoding": {"x": {"datum": 2.22, "type": "quantitative", "axis": null}, "x2": {"datum": 11.31}, "y": {"datum": 1843, "type": "quantitative", "axis": null}, "y2": {"datum": 1111}}},
  {"data": {"values": [{}]}, "mark": {"type": "rule", "color": "#7E2F8E", "strokeWidth": 3},
   "encoding": {"x": {"datum": 2.55, "type": "quantitative", "axis": null}, "x2": {"datum": 4.77}, "y": {"datum": 1673, "type": "quantitative", "axis": null}}},
  {"data": {"values": [{}]}, "mark": {"type": "rule", "color": "#77AC30", "strokeWidth": 3},
   "encoding": {"x": {"datum": 2.55, "type": "quantitative", "axis": null}, "x2": {"datum": 4.77}, "y": {"datum": 1307, "type": "quantitative", "axis": null}}},
  {"data": {"values": [{}]}, "mark": {"type": "text", "text": "N", "fontSize": 14, "fontWeight": "bold", "align": "left", "baseline": "alphabetic", "color": "black"},
   "encoding": {"x": {"datum": 5.12, "type": "quantitative", "axis": null}, "y": {"datum": 1612, "type": "quantitative", "axis": null}}},
  {"data": {"values": [{}]}, "mark": {"type": "text", "text": "100-500 nm", "fontSize": 13.5, "fontWeight": "bold", "align": "left", "baseline": "alphabetic", "color": "black"},
   "encoding": {"x": {"datum": 5.78, "type": "quantitative", "axis": null}, "y": {"datum": 1516, "type": "quantitative", "axis": null}}},
  {"data": {"values": [{}]}, "mark": {"type": "text", "text": "N", "fontSize": 14, "fontWeight": "bold", "align": "left", "baseline": "alphabetic", "color": "black"},
   "encoding": {"x": {"datum": 5.12, "type": "quantitative", "axis": null}, "y": {"datum": 1255, "type": "quantitative", "axis": null}}},
  {"data": {"values": [{}]}, "mark": {"type": "text", "text": "50-100 nm", "fontSize": 13.5, "fontWeight": "bold", "align": "left", "baseline": "alphabetic", "color": "black"},
   "encoding": {"x": {"datum": 5.78, "type": "quantitative", "axis": null}, "y": {"datum": 1167, "type": "quantitative", "axis": null}}},
  {"data": {"values": [{}]}, "mark": {"type": "text", "text": "N", "angle": 270, "dx": -46.3, "dy": 0, "fontSize": 20, "fontWeight": "bold", "align": "left", "baseline": "alphabetic", "color": "#262626"},
   "encoding": {"x": {"datum": -4.38, "type": "quantitative", "axis": null}, "y": {"datum": 1000, "type": "quantitative", "axis": null}}},
  {"data": {"values": [{}]}, "mark": {"type": "text", "text": "CN", "angle": 270, "dx": -31.9, "dy": 7, "fontSize": 13, "fontWeight": "bold", "align": "left", "baseline": "alphabetic", "color": "#262626"},
   "encoding": {"x": {"datum": -4.38, "type": "quantitative", "axis": null}, "y": {"datum": 1000, "type": "quantitative", "axis": null}}},
  {"data": {"values": [{}]}, "mark": {"type": "text", "text": "(cm", "angle": 270, "dx": -7.5, "dy": 0, "fontSize": 20, "fontWeight": "bold", "align": "left", "baseline": "alphabetic", "color": "#262626"},
   "encoding": {"x": {"datum": -4.38, "type": "quantitative", "axis": null}, "y": {"datum": 1000, "type": "quantitative", "axis": null}}},
  {"data": {"values": [{}]}, "mark": {"type": "text", "text": "-3", "angle": 270, "dx": 28.0, "dy": -5, "fontSize": 13, "fontWeight": "bold", "align": "left", "baseline": "alphabetic", "color": "#262626"},
   "encoding": {"x": {"datum": -4.38, "type": "quantitative", "axis": null}, "y": {"datum": 1000, "type": "quantitative", "axis": null}}},
  {"data": {"values": [{}]}, "mark": {"type": "text", "text": ")", "angle": 270, "dx": 39.6, "dy": 0, "fontSize": 20, "fontWeight": "bold", "align": "left", "baseline": "alphabetic", "color": "#262626"},
   "encoding": {"x": {"datum": -4.38, "type": "quantitative", "axis": null}, "y": {"datum": 1000, "type": "quantitative", "axis": null}}}
 ]
},
{
 "width": 347, "height": 153,
 "resolve": {"axis": {"x": "independent", "y": "independent"}},
 "layer": [
  {"transform": [{"filter": "datum.p == 'e'"}],
   "mark": {"type": "line", "strokeWidth": 2.5, "clip": true, "color": "#0072BD"},
   "encoding": {
    "x": {"field": "h", "type": "quantitative", "scale": {"domain": [0, 22.77], "nice": false}, "axis": {"orient": "bottom", "values": [0,3,6,9,12,15,18,21], "title": null}},
    "y": {"field": "v", "type": "quantitative", "scale": {"domain": [0, 0.8], "nice": false}, "axis": {"orient": "left", "values": [0,0.2,0.4,0.6,0.8], "labelExpr": "datum.value == 0 ? '0' : format(datum.value, '.1f')", "title": null}},
    "strokeDash": {"field": "t", "type": "nominal", "scale": {"domain": ["E", "N"], "range": [[1, 0], [12, 6]]}, "legend": null}
   }},
  {"transform": [{"filter": "datum.p == 'e'"}],
   "mark": {"type": "point", "opacity": 0},
   "encoding": {
    "x": {"field": "h", "type": "quantitative", "axis": {"orient": "top", "values": [0,3,6,9,12,15,18,21], "labels": false, "title": null}},
    "y": {"field": "v", "type": "quantitative", "axis": null}
   }},
  {"data": {"values": [{}]}, "mark": {"type": "text", "text": "e)", "fontSize": 14, "align": "left", "baseline": "alphabetic", "color": "#262626"},
   "encoding": {"x": {"datum": 0.64, "type": "quantitative", "axis": null}, "y": {"datum": 0.706, "type": "quantitative", "axis": null}}},
  {"data": {"values": [{}]}, "mark": {"type": "text", "text": "AF", "angle": 270, "fontSize": 20, "fontWeight": "bold", "align": "center", "baseline": "alphabetic", "color": "#262626"},
   "encoding": {"x": {"datum": -2.97, "type": "quantitative", "axis": null}, "y": {"datum": 0.4, "type": "quantitative", "axis": null}}}
 ]
},
{
 "width": 352, "height": 151,
 "resolve": {"axis": {"x": "independent", "y": "independent"}},
 "layer": [
  {"transform": [{"filter": "datum.p == 'c'"}],
   "mark": {"type": "line", "strokeWidth": 2.5, "clip": true, "color": "#444444"},
   "encoding": {
    "x": {"field": "h", "type": "quantitative", "scale": {"domain": [0, 23], "nice": false}, "axis": {"orient": "bottom", "values": [0,3,6,9,12,15,18,21], "title": "Time (UTC)"}},
    "y": {"field": "v", "type": "quantitative", "scale": {"domain": [20, 100], "nice": false}, "axis": {"orient": "left", "values": [20,40,60,80,100], "format": "d", "title": null}},
    "strokeDash": {"field": "t", "type": "nominal", "scale": {"domain": ["E", "N"], "range": [[1, 0], [12, 6]]}, "legend": null}
   }},
  {"transform": [{"filter": "datum.p == 'c'"}],
   "mark": {"type": "point", "opacity": 0},
   "encoding": {
    "x": {"field": "h", "type": "quantitative", "axis": {"orient": "top", "values": [0,3,6,9,12,15,18,21], "labels": false, "title": null}},
    "y": {"field": "v", "type": "quantitative", "axis": {"orient": "right", "values": [20,40,60,80,100], "labels": false, "title": null}}
   }},
  {"data": {"values": [{}]}, "mark": {"type": "text", "text": "c)", "fontSize": 14, "align": "left", "baseline": "alphabetic", "color": "#262626"},
   "encoding": {"x": {"datum": 0.83, "type": "quantitative", "axis": null}, "y": {"datum": 89.9, "type": "quantitative", "axis": null}}},
  {"data": {"values": [{}]}, "mark": {"type": "text", "text": "D", "angle": 270, "dx": -43.2, "dy": 0, "fontSize": 20, "fontWeight": "bold", "align": "left", "baseline": "alphabetic", "color": "#262626"},
   "encoding": {"x": {"datum": -3.75, "type": "quantitative", "axis": null}, "y": {"datum": 60, "type": "quantitative", "axis": null}}},
  {"data": {"values": [{}]}, "mark": {"type": "text", "text": "geo", "angle": 270, "dx": -28.8, "dy": 7, "fontSize": 13, "fontWeight": "bold", "align": "left", "baseline": "alphabetic", "color": "#262626"},
   "encoding": {"x": {"datum": -3.75, "type": "quantitative", "axis": null}, "y": {"datum": 60, "type": "quantitative", "axis": null}}},
  {"data": {"values": [{}]}, "mark": {"type": "text", "text": "(nm)", "angle": 270, "dx": -0.1, "dy": 0, "fontSize": 20, "fontWeight": "bold", "align": "left", "baseline": "alphabetic", "color": "#262626"},
   "encoding": {"x": {"datum": -3.75, "type": "quantitative", "axis": null}, "y": {"datum": 60, "type": "quantitative", "axis": null}}}
 ]
},
{
 "width": 347, "height": 151,
 "resolve": {"axis": {"x": "independent", "y": "independent"}},
 "layer": [
  {"transform": [{"filter": "datum.p == 'f'"}],
   "mark": {"type": "line", "strokeWidth": 2.5, "clip": true, "color": "#0072BD"},
   "encoding": {
    "x": {"field": "h", "type": "quantitative", "scale": {"domain": [0, 22.77], "nice": false}, "axis": {"orient": "bottom", "values": [0,3,6,9,12,15,18,21], "title": "Time (UTC)"}},
    "y": {"field": "v", "type": "quantitative", "scale": {"domain": [20, 100], "nice": false}, "axis": {"orient": "left", "values": [20,40,60,80,100], "format": "d", "title": null}},
    "strokeDash": {"field": "t", "type": "nominal", "scale": {"domain": ["E", "N"], "range": [[1, 0], [12, 6]]}, "legend": null}
   }},
  {"transform": [{"filter": "datum.p == 'f'"}],
   "mark": {"type": "point", "opacity": 0},
   "encoding": {
    "x": {"field": "h", "type": "quantitative", "axis": {"orient": "top", "values": [0,3,6,9,12,15,18,21], "labels": false, "title": null}},
    "y": {"field": "v", "type": "quantitative", "axis": null}
   }},
  {"data": {"values": [{}]}, "mark": {"type": "text", "text": "f)", "fontSize": 14, "align": "left", "baseline": "alphabetic", "color": "#262626"},
   "encoding": {"x": {"datum": 0.96, "type": "quantitative", "axis": null}, "y": {"datum": 89.5, "type": "quantitative", "axis": null}}},
  {"data": {"values": [{}]}, "mark": {"type": "text", "text": "D", "angle": 270, "dx": -41.8, "dy": 0, "fontSize": 20, "fontWeight": "bold", "align": "left", "baseline": "alphabetic", "color": "#262626"},
   "encoding": {"x": {"datum": -3.74, "type": "quantitative", "axis": null}, "y": {"datum": 60, "type": "quantitative", "axis": null}}},
  {"data": {"values": [{}]}, "mark": {"type": "text", "text": "crit", "angle": 270, "dx": -27.4, "dy": 7, "fontSize": 13, "fontWeight": "bold", "align": "left", "baseline": "alphabetic", "color": "#262626"},
   "encoding": {"x": {"datum": -3.74, "type": "quantitative", "axis": null}, "y": {"datum": 60, "type": "quantitative", "axis": null}}},
  {"data": {"values": [{}]}, "mark": {"type": "text", "text": "(nm)", "angle": 270, "dx": -1.6, "dy": 0, "fontSize": 20, "fontWeight": "bold", "align": "left", "baseline": "alphabetic", "color": "#262626"},
   "encoding": {"x": {"datum": -3.74, "type": "quantitative", "axis": null}, "y": {"datum": 60, "type": "quantitative", "axis": null}}}
 ]
}
],
"config": {
 "font": "Liberation Sans",
 "view": {"stroke": null},
 "axis": {"labelFont": "Liberation Sans", "labelFontWeight": "bold", "labelFontSize": 16, "labelColor": "#262626",
   "tickColor": "#262626", "tickSize": -4, "tickWidth": 1, "domainColor": "#262626", "domainWidth": 1, "grid": false,
   "titleFont": "Liberation Sans", "titleFontWeight": "bold", "titleFontSize": 19, "titleColor": "#262626",
   "labelFlush": false, "labelOverlap": false},
 "axisX": {"labelPadding": 13, "titlePadding": 9},
 "axisY": {"labelPadding": 12}
}
}
